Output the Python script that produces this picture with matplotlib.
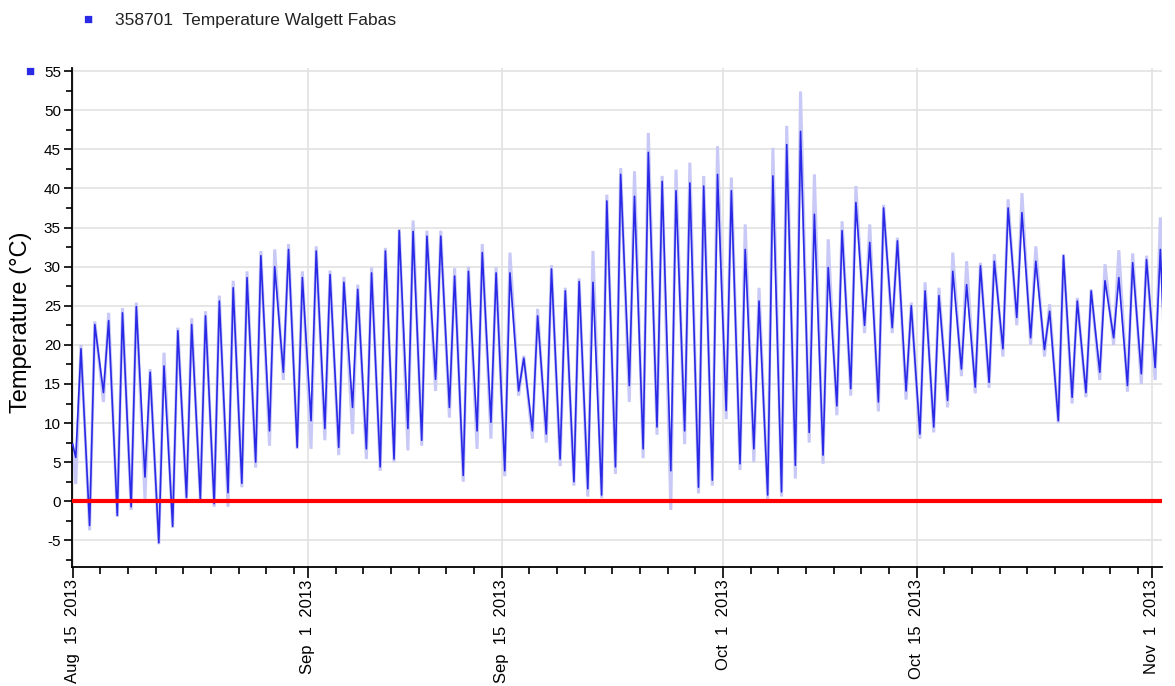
import numpy as np
import matplotlib
matplotlib.use("Agg")
import matplotlib.pyplot as plt
import matplotlib.dates as mdates
from datetime import datetime, timedelta

# ---- data ----
start_date = datetime(2013, 8, 15)
series_name = "358701  Temperature Walgett Fabas"
y_label = "Temperature (\u00b0C)"

# daily maximum (blue trace), Aug 15 .. Nov 1
daily_max = [19.5, 22.6, 23.1, 24.1, 24.9, 16.5, 17.3, 21.8, 22.6, 23.7, 25.6, 27.3, 28.6, 31.4, 30.0, 32.2, 28.6,
             32.0, 29.0, 28.0, 27.1, 29.2, 32.0, 34.6, 34.5, 33.9, 33.9, 28.8, 29.4, 31.8, 29.2, 29.2,
             18.3, 23.7, 29.7, 26.9, 28.1, 28.0, 38.4, 41.8, 39.0, 44.6, 40.9, 39.7, 40.7, 40.3, 41.8,
             39.7, 32.2, 25.6, 41.6, 45.6, 47.3, 36.7, 29.9, 34.6, 38.2, 33.1, 37.5, 33.3, 25.0,
             26.9, 26.3, 29.4, 27.7, 30.1, 30.7, 37.5, 36.9, 30.7, 24.3, 31.4, 25.6, 26.9, 28.2, 28.6, 30.5, 30.9,
             32.2]
# daily minimum (blue trace)
daily_min = [5.6, -3.1, 13.9, -1.8, -0.7, 3.1, -5.3, -3.2, 0.5, 0.3, -0.3, 1.1, 2.3, 5.0, 9.0, 16.5, 6.9,
             10.3, 9.3, 6.9, 12.0, 6.7, 4.4, 5.4, 9.3, 7.8, 15.6, 12.0, 3.3, 9.0, 10.1, 3.9,
             14.1, 9.0, 8.6, 5.4, 2.5, 1.6, 0.8, 4.4, 14.8, 6.7, 9.5, 3.9, 9.0, 1.8, 2.7,
             11.6, 4.8, 6.7, 0.8, 1.2, 4.6, 8.8, 5.9, 12.2, 14.4, 22.5, 12.7, 22.2, 14.1,
             8.6, 9.5, 12.9, 16.9, 14.6, 15.2, 19.5, 23.5, 20.9, 19.4, 10.3, 13.3, 13.9, 16.5, 20.9, 14.8, 16.3,
             17.1]
# envelope maximum (light trace)
env_max = [20.0, 23.0, 24.1, 24.7, 25.4, 16.9, 19.0, 22.2, 23.4, 24.3, 26.3, 28.2, 29.4, 32.0, 32.2, 32.9, 29.4,
           32.6, 29.5, 28.7, 27.7, 29.9, 32.4, 34.8, 35.9, 34.6, 34.6, 29.8, 30.0, 32.9, 29.9, 31.8,
           18.6, 24.6, 30.2, 27.3, 28.5, 32.0, 39.2, 42.6, 42.2, 47.1, 41.6, 42.4, 43.3, 41.6, 45.4,
           41.4, 35.4, 27.3, 45.2, 48.0, 52.4, 41.8, 33.5, 35.8, 40.3, 35.4, 37.9, 33.7, 25.4,
           28.0, 27.3, 31.8, 30.7, 30.5, 31.6, 38.6, 39.4, 32.6, 25.2, 31.6, 26.0, 27.1, 30.3, 32.1, 31.7, 31.4,
           36.3]
# envelope minimum (light trace)
env_min = [2.2, -3.7, 12.7, -2.0, -1.1, 0.3, -5.5, -3.4, 0.1, 0.1, -0.7, -0.7, 1.8, 4.3, 7.1, 15.5, 6.7,
           6.7, 7.8, 5.9, 8.6, 5.4, 3.9, 5.0, 6.5, 7.1, 14.1, 10.7, 2.5, 6.7, 8.0, 3.2,
           13.5, 8.0, 7.5, 4.5, 2.0, 0.6, 0.4, 3.5, 12.7, 5.5, 8.5, -1.1, 7.3, 1.0, 2.0,
           10.5, 4.0, 5.0, 0.3, 0.6, 2.9, 7.5, 4.8, 11.0, 13.5, 21.5, 11.5, 21.5, 13.0,
           8.0, 8.8, 12.0, 16.0, 13.8, 14.5, 18.5, 22.5, 20.0, 18.5, 10.0, 12.5, 13.3, 15.5, 20.0, 14.0, 15.0,
           15.5]
start_temp = 7.3
end_temp = 21.5

y_ticks = list(range(-5, 56, 5))
x_tick_dates = [datetime(2013, 8, 15), datetime(2013, 9, 1), datetime(2013, 9, 15),
                datetime(2013, 10, 1), datetime(2013, 10, 15), datetime(2013, 11, 1)]
x_tick_labels = ["Aug  15  2013", "Sep  1  2013", "Sep  15  2013",
                 "Oct  1  2013", "Oct  15  2013", "Nov  1  2013"]

# ---- build time series ----
min_hour, max_hour = 5.5, 14.5
n_days = len(daily_max)
end_time = start_date + timedelta(days=n_days - 1, hours=20.5)

def build(mins, maxs, s, e):
    t = [start_date]
    v = [s]
    for i in range(n_days):
        day = start_date + timedelta(days=i)
        t.append(day + timedelta(hours=min_hour)); v.append(mins[i])
        t.append(day + timedelta(hours=max_hour)); v.append(maxs[i])
    t.append(end_time); v.append(e)
    return t, v

t_blue, v_blue = build(daily_min, daily_max, start_temp, end_temp)
t_env, v_env = build(env_min, env_max, start_temp, end_temp)

# ---- figure ----
plt.rcParams['font.family'] = ['Liberation Sans', 'DejaVu Sans']
fig = plt.figure(figsize=(11.75, 6.86), dpi=100)
ax = fig.add_axes([0.0613, 0.1735, 0.9277, 0.7274])

ax.plot(t_env, v_env, color='#c9c9f7', lw=2.2, zorder=2, solid_joinstyle='miter')
ax.plot(t_blue, v_blue, color='#2a2ae6', lw=1.2, zorder=3)
ax.axhline(0, color='#ff0000', lw=3, zorder=4)

ax.set_ylim(-8.4, 55.4)
ax.set_xlim(start_date - timedelta(hours=1), datetime(2013, 11, 1, 17, 30))

ax.set_yticks(y_ticks)
ax.set_yticklabels([str(v) for v in y_ticks])
ax.yaxis.set_minor_locator(matplotlib.ticker.MultipleLocator(2.5))

ax.set_xticks(mdates.date2num(x_tick_dates))
ax.set_xticklabels(x_tick_labels, rotation=90, va='top', ha='center')
ax.xaxis.set_minor_locator(mdates.DayLocator(bymonthday=range(1, 32, 2)))

ax.grid(True, which='major', color='#e2e2e2', lw=1.2, zorder=0)
ax.set_axisbelow(True)

for s in ['top', 'right']:
    ax.spines[s].set_visible(False)
for s in ['left', 'bottom']:
    ax.spines[s].set_color('black')
    ax.spines[s].set_linewidth(1.3)

ax.tick_params(axis='y', which='major', length=6, width=1.2, labelsize=11, colors='black', pad=2)
ax.tick_params(axis='y', which='minor', length=4, width=1.2)
ax.tick_params(axis='x', which='major', length=8, width=1.2, labelsize=12, pad=1)
ax.tick_params(axis='x', which='minor', length=5, width=1.2)

ax.set_ylabel(y_label, fontsize=17)
ax.yaxis.set_label_coords(-0.037, 0.49)

# legend
fig.text(88 / 1175, 1 - 20 / 686, "\u25a0", color='#2a2ae6', fontsize=11, ha='center', va='center')
fig.text(115 / 1175, 1 - 20 / 686, series_name, color='#222222', fontsize=12.5, ha='left', va='center')
# legend marker overlapping top tick label
fig.text(30 / 1175, 1 - 72 / 686, "\u25a0", color='#2a2ae6', fontsize=11, ha='center', va='center')

fig.savefig("out.png", dpi=100)
